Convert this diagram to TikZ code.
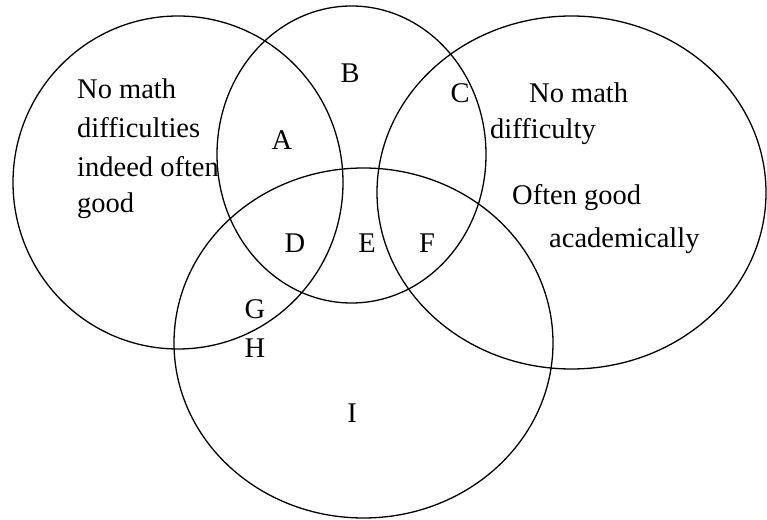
\documentclass[tikz,border=0pt]{standalone}
\usepackage{fontspec}
\setmainfont{Liberation Serif}
\begin{document}
\begin{tikzpicture}[x=1pt,y=1pt,
  ring/.style={draw=black,line width=1.3pt},
  lbl/.style={inner sep=0pt,anchor=base,font=\fontsize{28.5}{38}\selectfont},
  txt/.style={inner sep=0pt,anchor=base west,font=\fontsize{28.5}{38}\selectfont}]
\useasboundingbox (0,0) rectangle (767,519);
% sets
\draw[ring] (178,336.5) ellipse [x radius=165, y radius=166.5];
\draw[ring] (351.5,364.5) ellipse [x radius=134.5, y radius=148.5];
\draw[ring] (571.5,326.5) ellipse [x radius=194.5, y radius=176.5];
\draw[ring] (363.5,176) ellipse [x radius=189.5, y radius=175];
% left description
\node[txt] (l1) at (77,420) {No math};
\node[txt] (l2) at (77,381) {difficulties};
\node[txt] (l3) at (77,342) {indeed often};
\node[txt] (l4) at (77,306) {good};
% right description
\node[txt] (r1) at (529,416) {No math};
\node[txt] (r2) at (490,380) {difficulty};
\node[txt] (r3) at (512,314) {Often good};
\node[txt] (r4) at (549,271) {academically};
% region letters
\node[lbl] (A) at (282,369) {A};
\node[lbl] (B) at (350,436) {B};
\node[lbl] (C) at (460,416) {C};
\node[lbl] (D) at (295,266) {D};
\node[lbl] (E) at (367,266) {E};
\node[lbl] (F) at (427,266) {F};
\node[lbl] (G) at (255,200) {G};
\node[lbl] (H) at (255,161) {H};
\node[lbl] (I) at (352,96) {I};
\end{tikzpicture}
\end{document}
